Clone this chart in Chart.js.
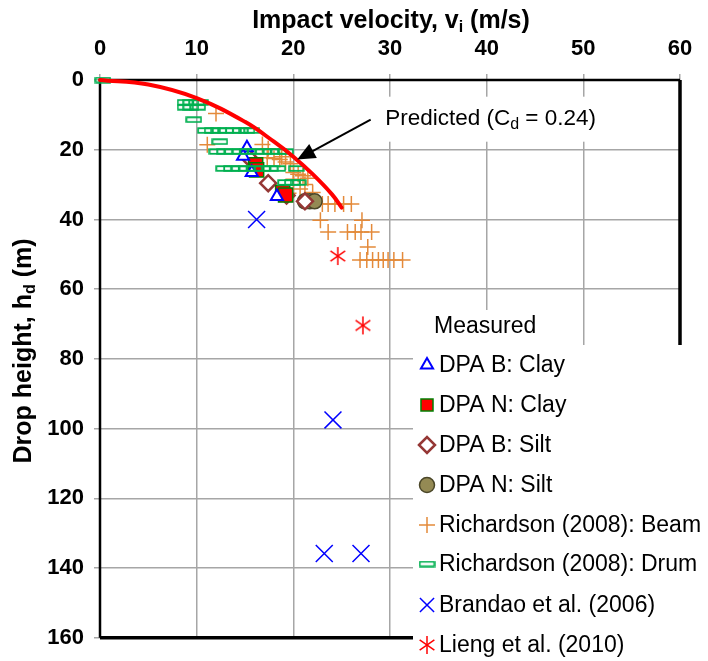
<!DOCTYPE html>
<html><head><meta charset="utf-8">
<script src="https://cdn.jsdelivr.net/npm/chart.js@4/dist/chart.umd.min.js"></script>
<style>html,body{margin:0;padding:0;background:#fff;}</style>
</head><body>
<canvas id="c" width="708" height="661" style="display:block"></canvas>
<script>
// ---- data (v = impact velocity m/s, h = drop height m) ----
const xTicks = [0, 10, 20, 30, 40, 50, 60];
const yTicks = [0, 20, 40, 60, 80, 100, 120, 140, 160];
const predicted = [[0,0],[5,1.3],[10,5.2],[15,12],[18,17.7],[20,22],[22,27],[24,32.8],[25,36.6]];
const dpaBClay = [[15.2,19.4],[14.8,21.9],[15.7,26.5],[18.3,33.4]];
const dpaNClay = [[16.1,24.3],[16.2,25.8],[18.9,32.3],[19.2,33.0]];
const dpaBSilt = [[15.3,22.0],[17.4,29.6],[19.3,33.1],[21.2,34.8]];
const dpaNSilt = [[21.2,34.8],[21.7,34.8],[22.2,34.8]];
const beam = [[12.0,9.6],[11.1,18.6],[16.8,18.5],[17.4,19.7],[18.8,22.0],[17.3,22.3],[18.0,22.5],[18.6,22.8],[19.2,23.5],[19.7,24.0],
  [20.0,26.5],[20.5,27.0],[21.0,27.5],[21.5,28.2],[20.0,28.5],[21.2,30.0],[20.7,31.3],[19.5,32.5],[22.0,32.3],
  [23.0,35.6],[23.6,35.6],[24.3,35.6],[25.2,35.6],[26.0,35.6],[22.8,40.2],[27.1,40.2],
  [23.6,43.6],[25.6,43.6],[26.4,43.6],[27.0,43.6],[28.1,43.6],[27.7,47.9],
  [26.9,51.6],[27.6,51.6],[28.2,51.6],[28.8,51.6],[29.3,51.6],[29.8,51.6],[30.4,51.6],[31.3,51.6]];
const drum = [[0.3,0],[8.8,6.4],[9.4,6.4],[10.0,6.4],[10.4,6.4],[8.8,7.8],[9.4,7.8],[10.1,7.8],[9.7,11.4],
  [10.9,14.5],[11.6,14.5],[12.3,14.5],[13.0,14.5],[13.8,14.5],[14.5,14.5],[15.2,14.5],[15.7,14.5],[12.4,17.7],
  [12.1,20.5],[12.9,20.5],[13.7,20.5],[14.5,20.5],[15.3,20.5],[16.1,20.5],[16.9,20.5],[17.7,20.5],[18.5,20.5],[19.2,20.5],
  [12.8,25.4],[13.6,25.4],[14.4,25.4],[15.2,25.4],[16.0,25.4],[16.8,25.4],[17.6,25.4],[18.4,25.4],[20.3,25.4],
  [19.2,29.4],[19.9,29.4],[20.5,29.4]];
const brandao = [[16.2,40.0],[24.1,97.5],[23.2,135.8],[27.0,135.8]];
const lieng = [[24.6,50.5],[27.2,70.4]];
const legendLabels = ['DPA B: Clay','DPA N: Clay','DPA B: Silt','DPA N: Silt','Richardson (2008): Beam','Richardson (2008): Drum','Brandao et al. (2006)','Lieng et al. (2010)'];

const FONT = "'Liberation Sans', Arial, Helvetica, sans-serif";
const toXY = a => a.map(p => ({x: p[0], y: p[1]}));

// custom marker images
function drumImg() {
  const c = document.createElement('canvas'); c.width = 17; c.height = 7;
  const g = c.getContext('2d'); g.strokeStyle = '#00b050'; g.lineWidth = 1.8;
  g.strokeRect(1.2, 1.2, 14.6, 4.6); return c;
}
function asteriskImg() {
  const c = document.createElement('canvas'); c.width = 20; c.height = 20;
  const g = c.getContext('2d'); g.strokeStyle = '#ff0000'; g.lineWidth = 1.5;
  [90, 35, 145].forEach(a => { const r = a*Math.PI/180, dx = Math.cos(r)*9, dy = Math.sin(r)*9;
    g.beginPath(); g.moveTo(10-dx, 10-dy); g.lineTo(10+dx, 10+dy); g.stroke(); });
  return c;
}
const DRUM = drumImg(), AST = asteriskImg();

const styles = [
  {pointStyle:'triangle', radius:7, borderColor:'#0000ff', backgroundColor:'#ffffff', borderWidth:2},
  {pointStyle:'rect', radius:10, borderColor:'#008000', backgroundColor:'#ff0000', borderWidth:1.5},
  {pointStyle:'rectRot', radius:8, borderColor:'#953735', backgroundColor:'#ffffff', borderWidth:2.5},
  {pointStyle:'circle', radius:7.5, borderColor:'#4a4628', backgroundColor:'#948a54', borderWidth:1.5},
  {pointStyle:'cross', radius:8, borderColor:'#e48a3a', backgroundColor:'#e48a3a', borderWidth:1.5},
  {pointStyle:DRUM, radius:8, borderColor:'#00b050', backgroundColor:'#00b050', borderWidth:1.5},
  {pointStyle:'crossRot', radius:12, borderColor:'#0000ff', backgroundColor:'#0000ff', borderWidth:1.5},
  {pointStyle:AST, radius:9, borderColor:'#ff0000', backgroundColor:'#ff0000', borderWidth:1.5}
];
const seriesData = [dpaBClay, dpaNClay, dpaBSilt, dpaNSilt, beam, drum, brandao, lieng];
const drawOrder = [3, 4, 5, 6, 7, 1, 8, 9]; // lower draws on top

const datasets = seriesData.map((d, i) => ({
  label: legendLabels[i], data: toXY(d), showLine: false, clip: false, order: drawOrder[i],
  pointStyle: styles[i].pointStyle, pointRadius: styles[i].radius, pointHoverRadius: styles[i].radius,
  pointBorderColor: styles[i].borderColor, pointBackgroundColor: styles[i].backgroundColor,
  pointBorderWidth: styles[i].borderWidth
}));
datasets.push({label:'Predicted', data: toXY(predicted), showLine: true, pointRadius: 0, borderColor:'#ff0000',
  borderWidth: 4, tension: 0.4, borderCapStyle:'round', clip: false, order: 0});

function rich(ctx, parts, x, y, font, subFont, subDy, align) {
  let total = 0;
  const ws = parts.map(p => { ctx.font = p.sub ? subFont : font; const w = ctx.measureText(p.t).width; total += w; return w; });
  let cx = align === 'center' ? x - total/2 : x;
  ctx.textBaseline = 'middle'; ctx.textAlign = 'left';
  parts.forEach((p, i) => { ctx.font = p.sub ? subFont : font; ctx.fillText(p.t, cx, y + (p.sub ? subDy : 0)); cx += ws[i]; });
}

const decor = {
  id: 'decor',
  beforeDatasetsDraw(chart) {
    const {ctx, chartArea: a} = chart;
    ctx.save(); ctx.strokeStyle = '#000';
    ctx.lineWidth = 2.5; ctx.beginPath(); ctx.moveTo(a.left, a.bottom); ctx.lineTo(a.left, a.top); ctx.lineTo(a.right, a.top); ctx.stroke();
    ctx.lineWidth = 3.5; ctx.beginPath(); ctx.moveTo(a.left, a.bottom); ctx.lineTo(a.right, a.bottom); ctx.lineTo(a.right, a.top); ctx.stroke();
    ctx.restore();
  },
  afterDatasetsDraw(chart) {
    const {ctx} = chart; const xs = chart.scales.x, ys = chart.scales.y;
    // arrow
    const x0 = xs.getPixelForValue(28.0), y0 = ys.getPixelForValue(11.4);
    const x1 = xs.getPixelForValue(20.4), y1 = ys.getPixelForValue(22.8);
    const ang = Math.atan2(y1 - y0, x1 - x0), L = 18, W = 8;
    ctx.save(); ctx.strokeStyle = '#000'; ctx.fillStyle = '#000'; ctx.lineWidth = 2;
    ctx.beginPath(); ctx.moveTo(x0, y0); ctx.lineTo(x1 - Math.cos(ang)*L*0.8, y1 - Math.sin(ang)*L*0.8); ctx.stroke();
    ctx.beginPath(); ctx.moveTo(x1, y1);
    ctx.lineTo(x1 - Math.cos(ang)*L + Math.sin(ang)*W, y1 - Math.sin(ang)*L - Math.cos(ang)*W);
    ctx.lineTo(x1 - Math.cos(ang)*L - Math.sin(ang)*W, y1 - Math.sin(ang)*L + Math.cos(ang)*W);
    ctx.closePath(); ctx.fill();
    // label box
    const tx = xs.getPixelForValue(29.5), ty = ys.getPixelForValue(11.1);
    ctx.fillStyle = '#fff'; ctx.fillRect(tx - 6, ty - 22, 232, 45);
    ctx.fillStyle = '#000';
    rich(ctx, [{t:'Predicted (C'},{t:'d', sub:true},{t:' = 0.24)'}], tx, ty, '22.5px ' + FONT, '16px ' + FONT, 6, 'left');
    ctx.restore();
  },
  afterDraw(chart) {
    const {ctx} = chart;
    ctx.save();
    // axis titles
    ctx.fillStyle = '#000';
    rich(ctx, [{t:'Impact velocity, v'},{t:'i', sub:true},{t:' (m/s)'}], 391, 21, 'bold 25px ' + FONT, 'bold 16px ' + FONT, 7, 'center');
    ctx.translate(24, 351); ctx.rotate(-Math.PI/2);
    rich(ctx, [{t:'Drop height, h'},{t:'d', sub:true},{t:' (m)'}], 0, 0, 'bold 25px ' + FONT, 'bold 16px ' + FONT, 7, 'center');
    ctx.setTransform(1,0,0,1,0,0);
    // legend boxes
    ctx.fillStyle = '#fff';
    ctx.fillRect(413, 310, 170, 36);
    ctx.fillRect(413, 345, 295, 316);
    ctx.fillStyle = '#000'; ctx.font = '23px ' + FONT; ctx.textBaseline = 'middle'; ctx.textAlign = 'left';
    ctx.fillText('Measured', 434, 327);
    const rows = [365, 405, 445, 485, 525, 564, 605, 645];
    legendLabels.forEach((lab, i) => {
      const s = styles[i];
      ctx.fillStyle = s.backgroundColor; ctx.strokeStyle = s.borderColor; ctx.lineWidth = s.borderWidth;
      const r = (i === 6) ? 10 : (i === 1 ? 8.5 : s.radius);
      Chart.helpers.drawPoint(ctx, {pointStyle: s.pointStyle, radius: r, rotation: 0, borderWidth: s.borderWidth}, 427, rows[i]);
      ctx.fillStyle = '#000'; ctx.font = '23px ' + FONT; ctx.textBaseline = 'middle'; ctx.textAlign = 'left';
      ctx.fillText(lab, 439, rows[i] + 1);
    });
    ctx.restore();
  }
};

new Chart(document.getElementById('c'), {
  type: 'scatter',
  data: { datasets },
  options: {
    responsive: false, animation: false, devicePixelRatio: 1,
    layout: { padding: { left: 0, top: 0, right: 28, bottom: 20 } },
    plugins: { legend: { display: false }, tooltip: { enabled: false } },
    scales: {
      x: { type: 'linear', position: 'top', min: 0, max: 60,
        afterFit: s => { s.height = 80; },
        afterBuildTicks: s => { s.ticks = xTicks.map(v => ({value: v})); },
        ticks: { font: { family: FONT, size: 22, weight: 'bold' }, color: '#000', padding: 12 },
        grid: { color: '#a6a6a6', lineWidth: 1.5, tickLength: 6, tickColor: '#a6a6a6' },
        border: { display: false }, title: { display: false } },
      y: { type: 'linear', reverse: true, min: 0, max: 160,
        afterFit: s => { s.width = 100; },
        afterBuildTicks: s => { s.ticks = yTicks.map(v => ({value: v})); },
        ticks: { font: { family: FONT, size: 22, weight: 'bold' }, color: '#000', padding: 10 },
        grid: { color: '#a6a6a6', lineWidth: 1.5, tickLength: 6, tickColor: '#a6a6a6' },
        border: { display: false }, title: { display: false } }
    }
  },
  plugins: [decor]
});
</script>
</body></html>
